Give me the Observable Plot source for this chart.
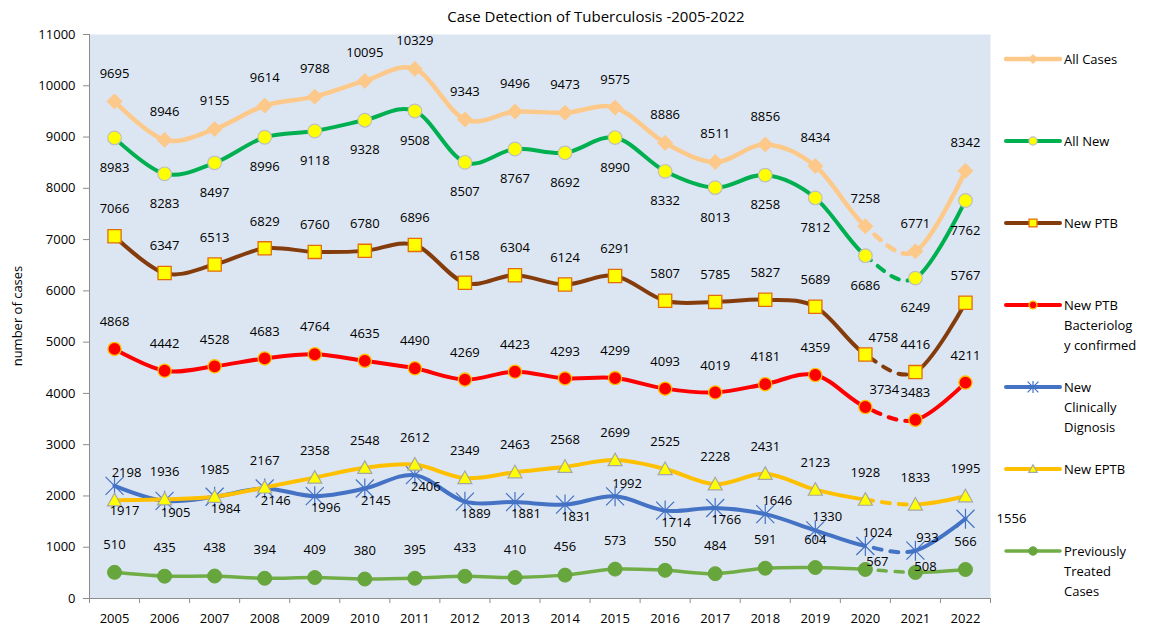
<!DOCTYPE html>
<html>
<head>
<meta charset="utf-8">
<script src="https://cdn.jsdelivr.net/npm/d3@7"></script>
<script src="https://cdn.jsdelivr.net/npm/@observablehq/plot@0.6"></script>
<style>
  html, body { margin: 0; padding: 0; background: #fff; }
  #wrap { position: relative; width: 1150px; height: 630px; font-family: "Open Sans", sans-serif; color: #000; overflow: hidden; }
  #title { position: absolute; left: 0; top: 0; width: 1192px; height: 26px; box-sizing: border-box; padding-top: 6px; line-height: 20px; text-align: center; font-size: 15px; }
  #chart { position: absolute; left: 0; top: 26px; }
  #ylab { position: absolute; left: 17px; top: 316px; transform: translate(-50%, -50%) rotate(-90deg); font-size: 13px; white-space: nowrap; }
  #legend { position: absolute; left: 1004px; top: 49px; }
  .li { position: relative; height: 82px; }
  .li svg { position: absolute; left: 0; top: 0; }
  .li .lt { position: absolute; left: 60px; top: 0; line-height: 20px; font-size: 13px; white-space: nowrap; }
</style>
</head>
<body>
<div id="wrap">
  <div id="title"></div>
  <div id="chart"></div>
  <div id="ylab"></div>
  <div id="legend"></div>
</div>
<script>
// ---------------- DATA ----------------
const years = [2005, 2006, 2007, 2008, 2009, 2010, 2011, 2012, 2013, 2014, 2015, 2016, 2017, 2018, 2019, 2020, 2021, 2022];
const allCases     = [9695, 8946, 9155, 9614, 9788, 10095, 10329, 9343, 9496, 9473, 9575, 8886, 8511, 8856, 8434, 7258, 6771, 8342];
const allNew       = [8983, 8283, 8497, 8996, 9118, 9328, 9508, 8507, 8767, 8692, 8990, 8332, 8013, 8258, 7812, 6686, 6249, 7762];
const newPTB       = [7066, 6347, 6513, 6829, 6760, 6780, 6896, 6158, 6304, 6124, 6291, 5807, 5785, 5827, 5689, 4758, 4416, 5767];
const newPTBBact   = [4868, 4442, 4528, 4683, 4764, 4635, 4490, 4269, 4423, 4293, 4299, 4093, 4019, 4181, 4359, 3734, 3483, 4211];
const newClinical  = [2198, 1905, 1984, 2146, 1996, 2145, 2406, 1889, 1881, 1831, 1992, 1714, 1766, 1646, 1330, 1024, 933, 1556];
const newEPTB      = [1917, 1936, 1985, 2167, 2358, 2548, 2612, 2349, 2463, 2568, 2699, 2525, 2228, 2431, 2123, 1928, 1833, 1995];
const prevTreated  = [510, 435, 438, 394, 409, 380, 395, 433, 410, 456, 573, 550, 484, 591, 604, 567, 508, 566];
const seriesNames  = ["All Cases", "All New", "New PTB", "New PTB Bacteriology confirmed", "New Clinically Dignosis", "New EPTB", "Previously Treated Cases"];
const legendLabels = [["All Cases"], ["All New"], ["New PTB"], ["New PTB", "Bacteriolog", "y confirmed"], ["New", "Clinically", "Dignosis"], ["New EPTB"], ["Previously", "Treated", "Cases"]];
const yTicks = [0, 1000, 2000, 3000, 4000, 5000, 6000, 7000, 8000, 9000, 10000, 11000];
const dashedFrom = 2020, dashedTo = 2021;
const titleText = "Case Detection of Tuberculosis -2005-2022";
const yLabelText = "number of cases";

// ---------------- STYLES ----------------
function sym(fn) { return { draw(c, size) { const r = Math.sqrt(size / Math.PI); fn(c, r); } }; }
const diamondSym = sym((c, r) => { c.moveTo(0, -r); c.lineTo(r, 0); c.lineTo(0, r); c.lineTo(-r, 0); c.closePath(); });
const squareSym = sym((c, r) => { c.moveTo(-r, -r); c.lineTo(r, -r); c.lineTo(r, r); c.lineTo(-r, r); c.closePath(); });
const triangleSym = sym((c, r) => { c.moveTo(0, -r); c.lineTo(r, r * 0.8); c.lineTo(-r, r * 0.8); c.closePath(); });
const starSym = sym((c, r) => { const a = r * 0.9; c.moveTo(0, -r); c.lineTo(0, r); c.moveTo(-a, -a); c.lineTo(a, a); c.moveTo(-a, a); c.lineTo(a, -a); });
const circleSym = sym((c, r) => { c.moveTo(r, 0); c.arc(0, 0, r, 0, 2 * Math.PI); });

const styles = [
  { stroke: "#fdc98a", width: 4.5, symbol: diamondSym, r: 7.5, fill: "#fdc98a", mstroke: "#fdc98a", msw: 1 },
  { stroke: "#00b050", width: 4, symbol: circleSym, r: 6.8, fill: "#ffff00", mstroke: "#bfbfbf", msw: 1.2 },
  { stroke: "#843c0c", width: 4, symbol: squareSym, r: 6.6, fill: "#ffff00", mstroke: "#e46c0a", msw: 1.3 },
  { stroke: "#ff0000", width: 4, symbol: circleSym, r: 6.6, fill: "#ff0000", mstroke: "#ffc000", msw: 1.3 },
  { stroke: "#4472c4", width: 4, symbol: starSym, r: 10, fill: "none", mstroke: "#4472c4", msw: 1.2 },
  { stroke: "#ffc000", width: 4, symbol: triangleSym, r: 7, fill: "#ffff00", mstroke: "#a6a6a6", msw: 1.2 },
  { stroke: "#70ad47", width: 3.5, symbol: circleSym, r: 7, fill: "#67a53d", mstroke: "#67a53d", msw: 1 }
];

function placement(si, year) {
  switch (si) {
    case 0: return [0, -28];
    case 1: return [0, 30];
    case 2: return year === 2020 ? [18, -17] : [0, -27];
    case 3: return year === 2020 ? [19, -17] : [0, -27];
    case 4:
      if (year === 2022) return [46, 0];
      if ([2005, 2015, 2018, 2019, 2020, 2021].includes(year)) return [12, -13];
      return [11, 12];
    case 5: return year === 2005 ? [10, 11] : [0, -27];
    case 6: return year === 2020 ? [12, -8] : year === 2021 ? [10, -6] : [0, -28];
  }
  return [0, -27];
}

// ---------------- BUILD ----------------
const values = [allCases, allNew, newPTB, newPTBBact, newClinical, newEPTB, prevTreated];
const seriesData = seriesNames.map((name, i) => values[i].map((v, j) => ({ series: name, si: i, year: years[j], value: v })));
const boundaries = years.map(y => y - 0.5).concat([years[years.length - 1] + 0.5]);

const FONT = '"Open Sans", sans-serif';
const marks = [
  Plot.frame({ fill: "#dce6f2", stroke: null }),
  Plot.ruleY([0], { stroke: "#8c8c8c", strokeWidth: 1 }),
  Plot.ruleX([boundaries[0]], { stroke: "#8c8c8c", strokeWidth: 1 }),
  Plot.axisY({ ticks: yTicks, tickSize: 6, tickPadding: 8, tickFormat: d => String(d), stroke: "#8c8c8c", fontSize: 13, label: null }),
  Plot.axisX({ ticks: years, tickSize: 0, tickPadding: 15, tickFormat: d => String(d), fontSize: 13, label: null }),
  Plot.axisX({ ticks: boundaries, tickSize: 5, tickFormat: () => "", stroke: "#8c8c8c", label: null })
];

seriesData.forEach((pts, i) => {
  const s = styles[i];
  marks.push(Plot.line(pts, { x: "year", y: "value", stroke: s.stroke, strokeWidth: s.width, curve: "cardinal" }));
  marks.push(Plot.line(pts, { x: "year", y: "value", stroke: s.stroke, strokeWidth: s.width, curve: "cardinal", strokeDasharray: "8,9" }));
  marks.push(Plot.dot(pts, { x: "year", y: "value", symbol: s.symbol, r: s.r, fill: s.fill, stroke: s.mstroke, strokeWidth: s.msw }));
});

seriesData.forEach((pts, i) => {
  const groups = d3.group(pts, d => placement(i, d.year).join(","));
  for (const [key, g] of groups) {
    const [dx, dy] = key.split(",").map(Number);
    marks.push(Plot.text(g, { x: "year", y: "value", text: d => String(d.value), dx, dy, fontSize: 13, fill: "#000" }));
  }
});

const plot = Plot.plot({
  width: 1150,
  height: 604,
  marginTop: 8,
  marginBottom: 32,
  marginLeft: 89,
  marginRight: 160,
  style: { fontFamily: FONT, fontSize: "13px", color: "#000", background: "transparent", overflow: "visible" },
  x: { domain: [boundaries[0], boundaries[boundaries.length - 1]], axis: null, label: null },
  y: { domain: [yTicks[0], yTicks[yTicks.length - 1]], axis: null, label: null },
  marks
});

// clip solid vs dashed segments using the library's x scale
const xs = plot.scale("x");
const xa = xs.apply(dashedFrom), xb = xs.apply(dashedTo);
const NS = "http://www.w3.org/2000/svg";
const defs = document.createElementNS(NS, "defs");
function clip(id, rects) {
  const cp = document.createElementNS(NS, "clipPath");
  cp.setAttribute("id", id);
  for (const [x0, x1] of rects) {
    const r = document.createElementNS(NS, "rect");
    r.setAttribute("x", x0); r.setAttribute("y", -50);
    r.setAttribute("width", Math.max(0, x1 - x0)); r.setAttribute("height", 800);
    cp.appendChild(r);
  }
  defs.appendChild(cp);
}
clip("solidClip", [[-50, xa], [xb, 1200]]);
clip("dashClip", [[xa, xb]]);
plot.insertBefore(defs, plot.firstChild);
const lineGs = plot.querySelectorAll('g[aria-label="line"]');
lineGs.forEach((g, k) => g.setAttribute("clip-path", k % 2 === 0 ? "url(#solidClip)" : "url(#dashClip)"));

document.getElementById("chart").appendChild(plot);
document.getElementById("title").textContent = titleText;
document.getElementById("ylab").textContent = yLabelText;

// legend
const leg = d3.select("#legend");
legendLabels.forEach((lines, i) => {
  const s = styles[i];
  const item = leg.append("div").attr("class", "li");
  const sv = item.append("svg").attr("width", 58).attr("height", 20);
  sv.append("line").attr("x1", 2).attr("x2", 56).attr("y1", 10).attr("y2", 10)
    .attr("stroke", s.stroke).attr("stroke-width", s.width).attr("stroke-linecap", "round");
  const sr = s.r * 0.6;
  sv.append("path").attr("transform", "translate(29,10)")
    .attr("d", d3.symbol(s.symbol, sr * sr * Math.PI)())
    .attr("fill", s.fill).attr("stroke", s.mstroke).attr("stroke-width", s.msw);
  const t = item.append("div").attr("class", "lt");
  lines.forEach(l => t.append("div").text(l));
});
</script>
</body>
</html>
